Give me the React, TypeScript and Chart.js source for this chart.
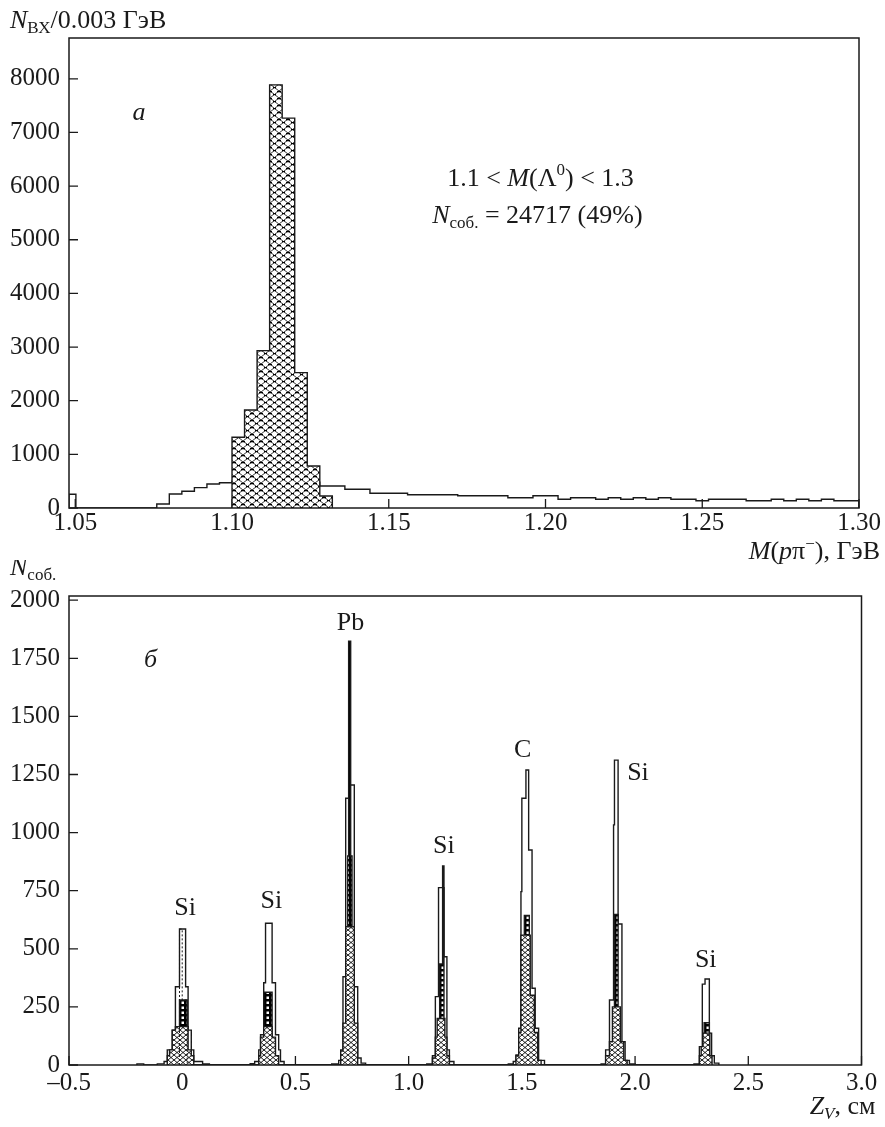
import React, { useEffect, useRef } from "react";
import { Chart, registerables } from "chart.js";
Chart.register(...registerables);

const FONT = '"Liberation Serif", "Times New Roman", serif';
const INK = "#1a1a1a";
const TICK_FONT = 25;
const TEXT_FONT = 26;
const SUB_FONT = 17;

// ---------------- Panel a : M(p pi-) ----------------
const massTicks = [1.05, 1.1, 1.15, 1.2, 1.25, 1.3];
const massTickLabels = ["1.05", "1.10", "1.15", "1.20", "1.25", "1.30"];
const entryTicks = [0, 1000, 2000, 3000, 4000, 5000, 6000, 7000, 8000];
const entryTickLabels = ["0", "1000", "2000", "3000", "4000", "5000", "6000", "7000", "8000"];

// all candidates: bin low edges (value holds until next edge)
const bgMassEdges = [
  1.048, 1.0502, 1.076, 1.08, 1.084, 1.088, 1.092, 1.096, 1.1, 1.104, 1.108, 1.112, 1.116, 1.12,
  1.124, 1.128, 1.136, 1.144, 1.156, 1.172, 1.188, 1.196, 1.204, 1.208, 1.216, 1.22, 1.224,
  1.228, 1.232, 1.236, 1.24, 1.248, 1.252, 1.264, 1.272, 1.276, 1.28, 1.284, 1.288, 1.292, 1.3,
];
const bgEntries = [
  255, 0, 75, 261, 311, 379, 447, 472, 500, 540, 580, 600, 590, 560,
  480, 410, 349, 274, 248, 229, 192, 229, 162, 192, 162, 192, 162,
  192, 162, 192, 162, 136, 162, 136, 162, 136, 162, 136, 162, 136, 0,
];
// Lambda window 1.1 < M < 1.3 (shaded)
const lambdaMassEdges = [1.1, 1.104, 1.108, 1.112, 1.116, 1.12, 1.124, 1.128, 1.132];
const lambdaEntries = [1318, 1827, 2933, 7887, 7267, 2523, 783, 224, 0];

// ---------------- Panel b : Z_V ----------------
const zTicks = [-0.5, 0, 0.5, 1, 1.5, 2, 2.5, 3];
const zTickLabels = ["–0.5", "0", "0.5", "1.0", "1.5", "2.0", "2.5", "3.0"];
const eventTicks = [0, 250, 500, 750, 1000, 1250, 1500, 1750, 2000];
const eventTickLabels = ["0", "250", "500", "750", "1000", "1250", "1500", "1750", "2000"];

// all events (open histogram)
const zAll = [
  -0.2, -0.17, -0.11, -0.08, -0.066, -0.044, -0.03, -0.012, 0.015, 0.026, 0.04, 0.051, 0.09, 0.12,
  0.3, 0.32, 0.338, 0.346, 0.36, 0.368, 0.397, 0.412, 0.426, 0.434, 0.45,
  0.66, 0.691, 0.7, 0.71, 0.722, 0.74, 0.76, 0.775, 0.79, 0.81,
  1.08, 1.105, 1.118, 1.132, 1.156, 1.169, 1.18, 1.2,
  1.44, 1.462, 1.474, 1.486, 1.496, 1.5, 1.518, 1.53, 1.545, 1.559, 1.574, 1.6,
  1.85, 1.87, 1.887, 1.905, 1.909, 1.925, 1.942, 1.956, 1.975, 2.0,
  2.26, 2.284, 2.297, 2.309, 2.328, 2.338, 2.35, 2.37,
];
const nAll = [
  5, 0, 5, 15, 65, 150, 337, 585, 337, 150, 65, 15, 4, 0,
  6, 15, 65, 130, 354, 610, 354, 130, 65, 15, 0,
  5, 20, 65, 380, 1148, 1205, 337, 30, 8, 0,
  5, 40, 294, 763, 466, 65, 15, 0,
  5, 15, 43, 158, 746, 1148, 1269, 925, 330, 158, 20, 0,
  5, 65, 280, 1033, 1312, 607, 100, 20, 5, 0,
  5, 79, 348, 370, 137, 40, 8, 0,
];
// dark-filled selection
const zDark = [-0.012, 0.022, 0.36, 0.397, 0.731, 0.735, 0.744, 0.75, 1.137, 1.15, 1.156, 1.511, 1.533, 1.909, 1.925, 2.305, 2.328];
const nDark = [280, 0, 313, 0, 900, 1824, 900, 0, 435, 856, 0, 643, 0, 648, 0, 182, 0];
// cross-hatched selection
const zHatch = [
  -0.066, -0.056, -0.044, -0.03, 0.026, 0.04, 0.051,
  0.338, 0.346, 0.36, 0.397, 0.412, 0.426,
  0.7, 0.71, 0.722, 0.76, 0.775,
  1.105, 1.118, 1.126, 1.16, 1.169, 1.18,
  1.474, 1.486, 1.496, 1.537, 1.555, 1.57, 1.585,
  1.87, 1.887, 1.9, 1.935, 1.95, 1.965,
  2.284, 2.292, 2.3, 2.33, 2.34,
];
const nHatch = [
  40, 65, 150, 165, 65, 40, 0,
  40, 120, 165, 120, 40, 0,
  60, 180, 595, 180, 0,
  30, 120, 200, 120, 40, 0,
  40, 140, 559, 300, 140, 20, 0,
  40, 100, 250, 100, 20, 0,
  40, 79, 137, 40, 0,
];
// dotted outline inside the Si peak at Z = 0
const zDotted = [-0.012, 0.0, 0.022];
const nDotted = [585, 280, 0];

const targetNames = ["Si", "Si", "Pb", "Si", "C", "Si", "Si"];
const targetLabelZ = [0.013, 0.394, 0.743, 1.156, 1.504, 1.965, 2.312];
const targetLabelN = [645, 676, 1872, 912, 1327, 1226, 423];
const targetLabelAlign = ["center", "center", "center", "center", "center", "left", "center"];

// ---------------- helpers ----------------
type Run = { t: string; s?: number; i?: boolean; dy?: number };

function drawRich(ctx: CanvasRenderingContext2D, runs: Run[], x: number, y: number, align: string) {
  ctx.save();
  ctx.fillStyle = INK;
  ctx.textBaseline = "alphabetic";
  ctx.textAlign = "left";
  const fontOf = (r: Run) => `${r.i ? "italic " : ""}${r.s ?? TEXT_FONT}px ${FONT}`;
  let w = 0;
  for (const r of runs) {
    ctx.font = fontOf(r);
    w += ctx.measureText(r.t).width;
  }
  let cx = align === "left" ? x : align === "right" ? x - w : x - w / 2;
  for (const r of runs) {
    ctx.font = fontOf(r);
    ctx.fillText(r.t, cx, y + (r.dy ?? 0));
    cx += ctx.measureText(r.t).width;
  }
  ctx.restore();
}

function steps(xs: number[], ys: number[]) {
  const pts = [{ x: xs[0], y: 0 }];
  xs.forEach((x, i) => pts.push({ x, y: ys[i] }));
  return pts;
}

function makePattern(w: number, h: number, draw: (g: CanvasRenderingContext2D) => void) {
  const c = document.createElement("canvas");
  c.width = w;
  c.height = h;
  const g = c.getContext("2d")!;
  draw(g);
  return g.createPattern(c, "repeat")!;
}

function frameAndTicksPlugin(xTicks: number[], yTicks: number[]) {
  return {
    id: "frameTicks",
    beforeDatasetsDraw(chart: any) {
      const { ctx, chartArea: a, scales } = chart;
      ctx.save();
      ctx.strokeStyle = INK;
      ctx.lineWidth = 1.3;
      ctx.beginPath();
      for (const v of xTicks) {
        const px = scales.x.getPixelForValue(v);
        ctx.moveTo(px, a.bottom);
        ctx.lineTo(px, a.bottom - 9);
      }
      for (const v of yTicks) {
        const py = scales.y.getPixelForValue(v);
        ctx.moveTo(a.left, py);
        ctx.lineTo(a.left + 9, py);
      }
      ctx.stroke();
      ctx.restore();
    },
    afterDatasetsDraw(chart: any) {
      const { ctx, chartArea: a } = chart;
      ctx.save();
      ctx.strokeStyle = INK;
      ctx.lineWidth = 1.5;
      ctx.strokeRect(a.left, a.top, a.right - a.left, a.bottom - a.top);
      ctx.restore();
    },
  };
}

function axisOpts(min: number, max: number, ticks: number[], labels: string[], pad: number) {
  return {
    type: "linear",
    min,
    max,
    grid: { display: false, drawTicks: false },
    border: { display: false },
    afterBuildTicks: (s: any) => {
      s.ticks = ticks.map((v) => ({ value: v }));
    },
    ticks: {
      autoSkip: false,
      maxRotation: 0,
      padding: pad,
      color: INK,
      font: { family: FONT, size: TICK_FONT },
      callback: (_v: any, i: number) => labels[i],
    },
  };
}

function lineDs(data: any, order: number, extra: any) {
  return {
    data,
    order,
    stepped: true,
    borderColor: INK,
    borderWidth: 1.4,
    pointRadius: 0,
    borderJoinStyle: "miter",
    borderCapStyle: "butt",
    ...extra,
  };
}

export default function App() {
  const refA = useRef<HTMLCanvasElement>(null);
  const refB = useRef<HTMLCanvasElement>(null);

  useEffect(() => {
    const weave = makePattern(9, 7, (g) => {
      g.fillStyle = "#fff";
      g.fillRect(0, 0, 9, 7);
      g.strokeStyle = "#000";
      g.lineWidth = 0.8;
      g.beginPath();
      g.moveTo(0, 0);
      g.lineTo(9, 7);
      g.moveTo(9, 0);
      g.lineTo(0, 7);
      g.stroke();
      g.fillStyle = "#000";
      g.fillRect(0, 0, 2, 1.3);
      g.fillRect(7, 0, 2, 1.3);
      g.fillRect(3, 3, 3, 1.2);
    });
    const hatch = makePattern(6, 5, (g) => {
      g.fillStyle = "#fff";
      g.fillRect(0, 0, 6, 5);
      g.strokeStyle = "#000";
      g.lineWidth = 0.9;
      g.beginPath();
      g.moveTo(0, 0);
      g.lineTo(6, 5);
      g.moveTo(6, 0);
      g.lineTo(0, 5);
      g.stroke();
    });
    const ladder = makePattern(5, 5, (g) => {
      g.fillStyle = "#000";
      g.fillRect(0, 0, 5, 5);
      g.fillStyle = "#fff";
      g.fillRect(1.5, 1.5, 2.5, 2.5);
    });

    const chartA = new Chart(refA.current!, {
      type: "line",
      data: {
        datasets: [
          lineDs(steps(bgMassEdges, bgEntries), 1, { fill: false }),
          lineDs(steps(lambdaMassEdges, lambdaEntries), 0, { fill: "origin", backgroundColor: weave }),
        ],
      },
      options: {
        animation: false,
        responsive: false,
        maintainAspectRatio: false,
        layout: { padding: { left: 0, right: 26, top: 38, bottom: 0 } },
        plugins: { legend: { display: false }, tooltip: { enabled: false } },
        scales: {
          x: { ...axisOpts(1.048, 1.3, massTicks, massTickLabels, 0), afterFit: (s: any) => { s.height = 72; } },
          y: { ...axisOpts(0, 8760, entryTicks, entryTickLabels, 9), afterFit: (s: any) => { s.width = 69; } },
        },
      } as any,
      plugins: [
        frameAndTicksPlugin(massTicks, entryTicks),
        {
          id: "textA",
          afterDraw(chart: any) {
            const { ctx, chartArea: a, scales } = chart;
            const X = (v: number) => scales.x.getPixelForValue(v);
            const Y = (v: number) => scales.y.getPixelForValue(v);
            drawRich(ctx, [{ t: "N", i: true }, { t: "ВХ", s: SUB_FONT, dy: 5 }, { t: "/0.003 ГэВ" }], 10, a.top - 10, "left");
            drawRich(
              ctx,
              [{ t: "M", i: true }, { t: "(" }, { t: "p", i: true }, { t: "π" }, { t: "−", s: SUB_FONT, dy: -10 }, { t: "), ГэВ" }],
              a.right + 21,
              a.bottom + 51,
              "right"
            );
            drawRich(ctx, [{ t: "a", i: true }], X(1.0703), Y(7240), "center");
            drawRich(
              ctx,
              [{ t: "1.1 < " }, { t: "M", i: true }, { t: "(Λ" }, { t: "0", s: SUB_FONT, dy: -11 }, { t: ") < 1.3" }],
              X(1.1984),
              Y(6000),
              "center"
            );
            drawRich(
              ctx,
              [{ t: "N", i: true }, { t: "соб.", s: SUB_FONT, dy: 5 }, { t: " = 24717 (49%)" }],
              X(1.1974),
              Y(5320),
              "center"
            );
          },
        },
      ],
    } as any);

    const chartB = new Chart(refB.current!, {
      type: "line",
      data: {
        datasets: [
          lineDs(steps(zAll, nAll), 3, { fill: "origin", backgroundColor: "#ffffff" }),
          lineDs(steps(zDark, nDark), 2, { fill: "origin", backgroundColor: ladder }),
          lineDs(steps(zHatch, nHatch), 1, { fill: "origin", backgroundColor: hatch }),
          lineDs(steps(zDotted, nDotted), 0, { fill: false, borderDash: [2, 2], borderWidth: 1 }),
        ],
      },
      options: {
        animation: false,
        responsive: false,
        maintainAspectRatio: false,
        layout: { padding: { left: 0, right: 23.5, top: 36, bottom: 0 } },
        plugins: { legend: { display: false }, tooltip: { enabled: false } },
        scales: {
          x: { ...axisOpts(-0.5, 3.0, zTicks, zTickLabels, 3), afterFit: (s: any) => { s.height = 62; } },
          y: { ...axisOpts(0, 2018, eventTicks, eventTickLabels, 9), afterFit: (s: any) => { s.width = 69; } },
        },
      } as any,
      plugins: [
        frameAndTicksPlugin(zTicks, eventTicks),
        {
          id: "textB",
          afterDraw(chart: any) {
            const { ctx, chartArea: a, scales } = chart;
            const X = (v: number) => scales.x.getPixelForValue(v);
            const Y = (v: number) => scales.y.getPixelForValue(v);
            drawRich(ctx, [{ t: "N", i: true }, { t: "соб.", s: SUB_FONT, dy: 5 }], 10, a.top - 21, "left");
            drawRich(
              ctx,
              [{ t: "Z", i: true }, { t: "V", i: true, s: SUB_FONT, dy: 5 }, { t: ", см" }],
              a.right + 14,
              a.bottom + 49,
              "right"
            );
            drawRich(ctx, [{ t: "б", i: true }], X(-0.14), Y(1712), "center");
            targetNames.forEach((name, i) => {
              drawRich(ctx, [{ t: name }], X(targetLabelZ[i]), Y(targetLabelN[i]), targetLabelAlign[i]);
            });
          },
        },
      ],
    } as any);

    return () => {
      chartA.destroy();
      chartB.destroy();
    };
  }, []);

  return (
    <div style={{ position: "absolute", left: 0, top: 0, width: 885, height: 1127, background: "#fff" }}>
      <canvas ref={refA} width={885} height={580} style={{ position: "absolute", left: 0, top: 0, width: 885, height: 580 }} />
      <canvas ref={refB} width={885} height={567} style={{ position: "absolute", left: 0, top: 560, width: 885, height: 567 }} />
    </div>
  );
}
